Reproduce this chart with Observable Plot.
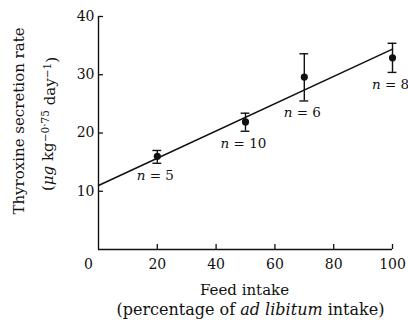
<!DOCTYPE html>
<html>
<head>
<meta charset="utf-8">
<script src="https://cdn.jsdelivr.net/npm/d3@7"></script>
<script src="https://cdn.jsdelivr.net/npm/@observablehq/plot@0.6"></script>
<style>
  html, body { margin: 0; padding: 0; background: #fff; }
  svg { display: block; }
</style>
</head>
<body>
<div id="chart"></div>
<script>
// Data
const feedIntake = [20, 50, 70, 100];          // % of ad libitum intake
const secretion  = [16.0, 21.9, 29.6, 32.9];   // µg kg^-0.75 day^-1
const errLow     = [14.8, 20.3, 25.5, 30.4];
const errHigh    = [17.0, 23.4, 33.6, 35.4];
const sampleN    = [5, 10, 6, 8];
const fitX       = [0, 100];
const fitY       = [11.0, 34.4];
const xTicks     = [20, 40, 60, 80, 100];
const yTicks     = [10, 20, 30, 40];

const points = feedIntake.map((x, i) => ({x, y: secretion[i], lo: errLow[i], hi: errHigh[i], n: sampleN[i]}));
const fit = fitX.map((x, i) => ({x, y: fitY[i]}));

const font = "'DejaVu Serif', 'Liberation Serif', serif";

const chart = Plot.plot({
  width: 408,
  height: 325,
  marginLeft: 98,
  marginRight: 16,
  marginTop: 16,
  marginBottom: 76,
  style: {fontFamily: font, background: "#fff", color: "#111"},
  x: {domain: [0, 100]},
  y: {domain: [0, 40]},
  marks: [
    // axis lines
    Plot.ruleX([0], {y1: 0, y2: 40, stroke: "#111", strokeWidth: 1.4}),
    Plot.ruleY([0], {x1: 0, x2: 100, stroke: "#111", strokeWidth: 1.4}),
    // inward ticks
    Plot.axisY({ticks: yTicks, tickSize: -5, text: null, label: null, strokeWidth: 1.3}),
    Plot.axisX({ticks: xTicks, tickSize: -5, text: null, label: null, strokeWidth: 1.3}),
    // tick labels
    Plot.axisY({ticks: yTicks, tickSize: 0, tickPadding: 4, fontSize: 14, label: null, fill: "#111"}),
    Plot.axisX({ticks: xTicks, tickSize: 0, tickPadding: 10, fontSize: 14, label: null, fill: "#111"}),
    Plot.text(["0"], {x: 0, y: 0, dx: -10, dy: 10, lineAnchor: "top", fontSize: 14, fill: "#111"}),
    // regression line
    Plot.line(fit, {x: "x", y: "y", stroke: "#111", strokeWidth: 1.6}),
    // error bars
    Plot.ruleX(points, {x: "x", y1: "lo", y2: "hi", stroke: "#111", strokeWidth: 1.4}),
    Plot.ruleY(points, {y: "lo", x1: d => d.x - 1.5, x2: d => d.x + 1.5, stroke: "#111", strokeWidth: 1.4}),
    Plot.ruleY(points, {y: "hi", x1: d => d.x - 1.5, x2: d => d.x + 1.5, stroke: "#111", strokeWidth: 1.4}),
    Plot.dot(points, {x: "x", y: "y", r: 3.6, fill: "#111", stroke: "none"}),
    // n labels
    Plot.text(points, {x: "x", y: "lo", text: d => `n = ${d.n}`, dx: -2, dy: 12, fontSize: 13.5, fill: "#111"}),
    // axis titles
    Plot.text(["Thyroxine secretion rate"], {frameAnchor: "left", textAnchor: "middle", lineAnchor: "middle", rotate: -90, dx: -79, dy: -12, fontSize: 15, fill: "#111"}),
    Plot.text(["(μg kg-0.75 day-1)"], {frameAnchor: "left", textAnchor: "middle", lineAnchor: "middle", rotate: -90, dx: -50, dy: -9, fontSize: 15, fill: "#111"}),
    Plot.text(["Feed intake"], {frameAnchor: "bottom", textAnchor: "middle", lineAnchor: "middle", dy: 41, dx: -1, fontSize: 15, fill: "#111"}),
    Plot.text(["(percentage of ad libitum intake)"], {frameAnchor: "bottom", textAnchor: "middle", lineAnchor: "middle", dy: 60, dx: 5, fontSize: 16, letterSpacing: 0.3, fill: "#111"})
  ]
});

document.getElementById("chart").appendChild(chart);

// Rich text formatting: italics and superscripts
const svg = d3.select(chart);
svg.selectAll("text").each(function() {
  const t = d3.select(this);
  const s = this.textContent;
  if (/^n = \d+$/.test(s)) {
    const rest = s.slice(1);
    t.text(null);
    t.append("tspan").attr("font-style", "italic").text("n");
    t.append("tspan").text(rest);
  } else if (s === "(μg kg-0.75 day-1)") {
    t.text(null);
    t.append("tspan").text("(");
    t.append("tspan").attr("font-style", "italic").text("μg");
    t.append("tspan").text(" kg");
    t.append("tspan").attr("dy", "-0.45em").attr("font-size", "10.5").text("−0·75");
    t.append("tspan").attr("dy", "0.45em").text(" day");
    t.append("tspan").attr("dy", "-0.45em").attr("font-size", "10.5").text("−1");
    t.append("tspan").attr("dy", "0.45em").text(")");
  } else if (s === "(percentage of ad libitum intake)") {
    t.text(null);
    t.append("tspan").text("(percentage of ");
    t.append("tspan").attr("font-style", "italic").text("ad libitum");
    t.append("tspan").text(" intake)");
  }
});
</script>
</body>
</html>
